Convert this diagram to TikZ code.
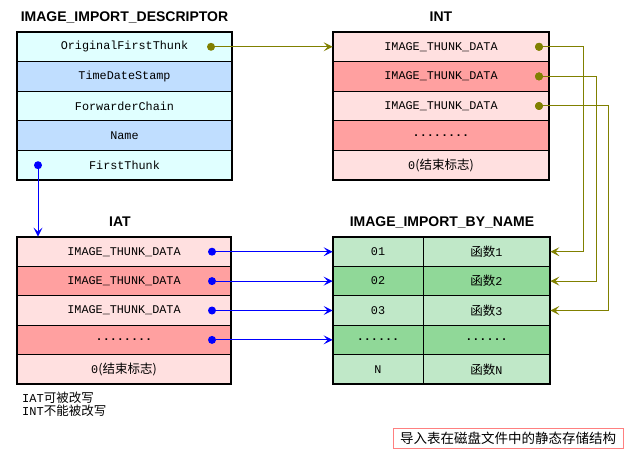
\documentclass[tikz,border=0pt]{standalone}
\usepackage{fontspec}
\setmainfont{Liberation Sans}
\newfontfamily\cjk{Noto Sans CJK SC}
\newfontfamily\mono{Liberation Mono}
\usetikzlibrary{arrows.meta}
\definecolor{cyanrow}{RGB}{224,255,255}
\definecolor{bluerow}{RGB}{192,222,255}
\definecolor{pinkrow}{RGB}{255,224,224}
\definecolor{salmonrow}{RGB}{255,160,160}
\definecolor{lgreen}{RGB}{192,232,200}
\definecolor{dgreen}{RGB}{144,216,152}
\definecolor{olive}{RGB}{128,128,0}
\definecolor{redbox}{RGB}{255,128,128}
\newcommand\zhtext[1]{{\cjk\fontsize{12.5}{13}\selectfont #1}}
\begin{document}
\begin{tikzpicture}[x=1pt,y=-1pt,
  cell/.style={rectangle, draw=black, line width=0.8pt, inner sep=0pt,
    font=\mono\fontsize{11.8}{12}\selectfont},
  drow/.style={cell, minimum width=215pt, minimum height=29.6pt},
  irow/.style={cell, minimum width=216pt, minimum height=29.6pt},
  arow/.style={cell, minimum width=214pt, minimum height=29.4pt},
  lcol/.style={cell, minimum width=90pt, minimum height=29.4pt},
  rcol/.style={cell, minimum width=127pt, minimum height=29.4pt},
  frame/.style={draw=black, line width=2pt},
  title/.style={font=\bfseries\fontsize{14}{14}\selectfont, inner sep=0pt},
  odot/.style={circle, fill=olive, inner sep=0pt, minimum size=8pt},
  bdot/.style={circle, fill=blue, inner sep=0pt, minimum size=8pt},
  oline/.style={draw=olive, line width=1pt, -{Stealth[length=9pt,width=9pt,inset=4pt]}},
  bline/.style={draw=blue, line width=1pt, -{Stealth[length=9pt,width=9pt,inset=4pt]}},
  note/.style={font=\mono\fontsize{12}{13}\selectfont, inner sep=0pt}
]
\useasboundingbox (0,0) rectangle (628,454);
\fill[white] (0,0) rectangle (628,454);

% IMAGE_IMPORT_DESCRIPTOR
\node[title] (tdesc) at (124.5,17) {IMAGE\_IMPORT\_DESCRIPTOR};
\node[drow, fill=cyanrow] (d1) at (124.5,46.8) {OriginalFirstThunk};
\node[drow, fill=bluerow] (d2) at (124.5,76.4) {TimeDateStamp};
\node[drow, fill=cyanrow] (d3) at (124.5,106.0) {ForwarderChain};
\node[drow, fill=bluerow] (d4) at (124.5,135.6) {Name};
\node[drow, fill=cyanrow] (d5) at (124.5,165.2) {FirstThunk};
\draw[frame] (d1.north west) rectangle (d5.south east);

% INT
\node[title] (tint) at (441,17) {INT};
\node[irow, fill=pinkrow] (i1) at (441,46.8) {IMAGE\_THUNK\_DATA};
\node[irow, fill=salmonrow] (i2) at (441,76.4) {IMAGE\_THUNK\_DATA};
\node[irow, fill=pinkrow] (i3) at (441,106.0) {IMAGE\_THUNK\_DATA};
\node[irow, fill=salmonrow] (i4) at (441,135.6) {\textbf{........}};
\node[irow, fill=pinkrow] (i5) at (441,165.2) {0\zhtext{(结束标志)}};
\draw[frame] (i1.north west) rectangle (i5.south east);

% IAT
\node[title] (tiat) at (120,222) {IAT};
\node[arow, fill=pinkrow] (a1) at (124,251.7) {IMAGE\_THUNK\_DATA};
\node[arow, fill=salmonrow] (a2) at (124,281.1) {IMAGE\_THUNK\_DATA};
\node[arow, fill=pinkrow] (a3) at (124,310.5) {IMAGE\_THUNK\_DATA};
\node[arow, fill=salmonrow] (a4) at (124,339.9) {\textbf{........}};
\node[arow, fill=pinkrow] (a5) at (124,369.3) {0\zhtext{(结束标志)}};
\draw[frame] (a1.north west) rectangle (a5.south east);

% IMAGE_IMPORT_BY_NAME
\node[title] (tibn) at (442,222) {IMAGE\_IMPORT\_BY\_NAME};
\node[lcol, fill=lgreen] (b1) at (378,251.7) {01};
\node[rcol, fill=lgreen] (f1) at (486.5,251.7) {\zhtext{函数}1};
\node[lcol, fill=dgreen] (b2) at (378,281.1) {02};
\node[rcol, fill=dgreen] (f2) at (486.5,281.1) {\zhtext{函数}2};
\node[lcol, fill=lgreen] (b3) at (378,310.5) {03};
\node[rcol, fill=lgreen] (f3) at (486.5,310.5) {\zhtext{函数}3};
\node[lcol, fill=dgreen] (b4) at (378,339.9) {\textbf{......}};
\node[rcol, fill=dgreen] (f4) at (486.5,339.9) {\textbf{......}};
\node[lcol, fill=lgreen] (b5) at (378,369.3) {N};
\node[rcol, fill=lgreen] (f5) at (486.5,369.3) {\zhtext{函数}N};
\draw[frame] (b1.north west) rectangle (f5.south east);

% dots
\node[odot] (od) at (211,46.8) {};
\node[bdot] (bd) at (38,165.2) {};
\node[odot] (n1) at (539,46.8) {};
\node[odot] (n2) at (539,76.4) {};
\node[odot] (n3) at (539,106.0) {};
\node[bdot] (p1) at (212,251.7) {};
\node[bdot] (p2) at (212,281.1) {};
\node[bdot] (p3) at (212,310.5) {};
\node[bdot] (p4) at (212,339.9) {};

% connectors
\draw[oline] (od) -- (i1.west);
\draw[bline] (bd) -- (bd |- a1.north);
\draw[oline] (n1.center) -- ++(44,0) |- (f1.east);
\draw[oline] (n2.center) -- ++(57,0) |- (f2.east);
\draw[oline] (n3.center) -- ++(69,0) |- (f3.east);
\draw[bline] (p1) -- (b1.west);
\draw[bline] (p2) -- (b2.west);
\draw[bline] (p3) -- (b3.west);
\draw[bline] (p4) -- (b4.west);
\node[odot] at (n1) {};
\node[odot] at (n2) {};
\node[odot] at (n3) {};

% notes
\node[note, anchor=north west, align=left] (notes) at (22,392) {IAT\zhtext{可被改写}\\INT\zhtext{不能被改写}};
\node[draw=redbox, line width=1pt, minimum width=230pt, minimum height=20pt, inner sep=0pt,
  font=\cjk\fontsize{13.5}{14}\selectfont] (cap) at (508,438) {导入表在磁盘文件中的静态存储结构};
\end{tikzpicture}
\end{document}
